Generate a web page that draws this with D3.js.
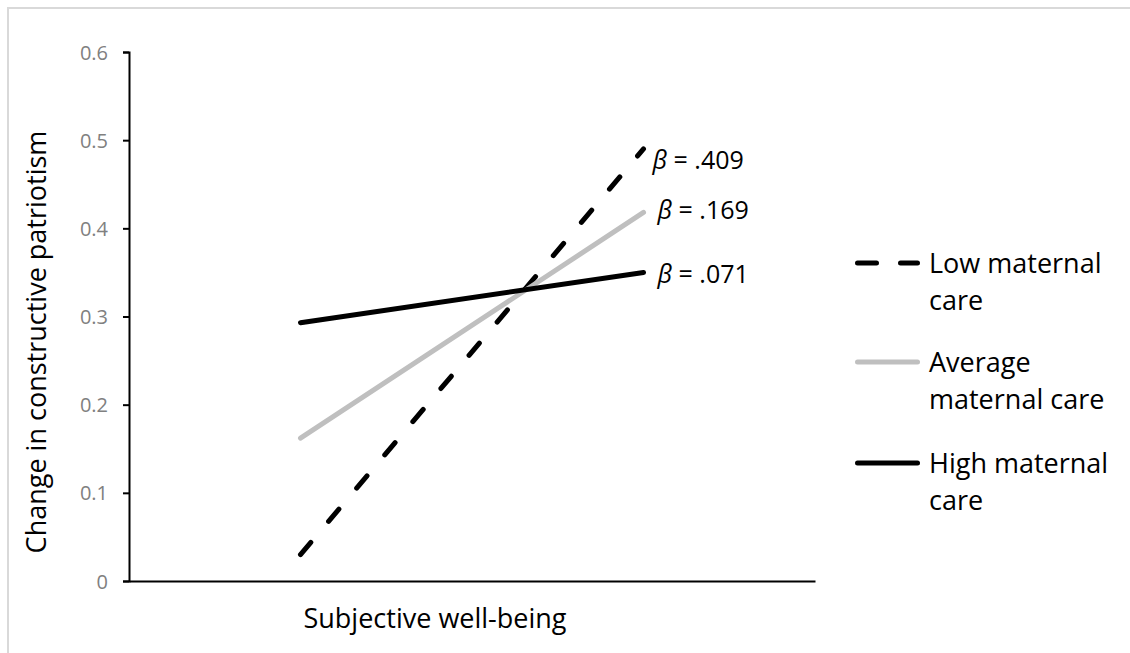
<!DOCTYPE html>
<html><head><meta charset="utf-8">
<script src="https://cdn.jsdelivr.net/npm/d3@7"></script>
<style>
body{margin:0;background:#fff;}
text{font-family:"Open Sans",sans-serif;}
</style></head>
<body>
<svg id="c" width="1130" height="653"></svg>
<script>
const categories = ["Low", "High"];
const seriesNames = ["Low maternal care", "Average maternal care", "High maternal care"];
const lowValues = [0.030, 0.490];
const avgValues = [0.162, 0.418];
const highValues = [0.293, 0.350];
const betaLabels = ["β = .409", "β = .169", "β = .071"];
const yTicks = [0, 0.1, 0.2, 0.3, 0.4, 0.5, 0.6];
const xTitle = "Subjective well-being";
const yTitle = "Change in constructive patriotism";

const svg = d3.select("#c");
svg.append("rect").attr("x",8).attr("y",8).attr("width",1130).attr("height",660)
  .attr("fill","none").attr("stroke","#d9d9d9").attr("stroke-width",2);

const x = d3.scalePoint().domain(categories).range([129, 815]).padding(0.5);
const y = d3.scaleLinear().domain([0, 0.6]).range([581, 52]);

const yAxis = svg.append("g").attr("transform","translate(129,0)")
  .call(d3.axisLeft(y).tickValues(yTicks).tickSize(6).tickPadding(15).tickFormat(d=>d===0?"0":d3.format(".1f")(d)));
yAxis.attr("font-family",null);
yAxis.select(".domain").attr("stroke","#000").attr("stroke-width",2);
yAxis.selectAll(".tick line").attr("stroke","#000").attr("stroke-width",2);
yAxis.selectAll(".tick text").attr("fill","#808080").attr("font-size",20).attr("dy","0.35em");

const xAxis = svg.append("g").attr("transform","translate(0,581)")
  .call(d3.axisBottom(x).tickValues([]).tickSizeOuter(0));
xAxis.select(".domain").attr("stroke","#000").attr("stroke-width",2);

svg.append("text").attr("x",435).attr("y",628).attr("text-anchor","middle")
  .attr("font-size",27).attr("fill","#000").text(xTitle);
svg.append("text").attr("transform","translate(46,342) rotate(-90)").attr("text-anchor","middle")
  .attr("font-size",27).attr("fill","#000").text(yTitle);

const series = [
  {vals: lowValues, color:"#000", dash:"16,27.5"},
  {vals: avgValues, color:"#bfbfbf", dash:null},
  {vals: highValues, color:"#000", dash:null}
];
const line = d3.line().x(d=>x(d[0])).y(d=>y(d[1]));
series.forEach(s=>{
  const p = svg.append("path").datum(categories.map((c,i)=>[c,s.vals[i]]))
    .attr("d",line).attr("fill","none").attr("stroke",s.color).attr("stroke-width",5)
    .attr("stroke-linecap","round");
  if(s.dash) p.attr("stroke-dasharray",s.dash);
});

// beta labels
const labelPos = [[9,20],[14,7],[14,11]];
series.forEach((s,i)=>{
  const t = svg.append("text").attr("x",x(categories[1])+labelPos[i][0]).attr("y",y(s.vals[1]) + labelPos[i][1])
    .attr("font-size",25).attr("fill","#000");
  t.append("tspan").attr("font-style","italic").text(betaLabels[i].slice(0,1));
  t.append("tspan").text(betaLabels[i].slice(1));
});

// legend
const legY = [263, 362, 463];
const legLines = [["Low maternal","care"],["Average","maternal care"],["High maternal","care"]];
series.forEach((s,i)=>{
  const l = svg.append("line").attr("x1",857.5).attr("x2",917.5).attr("y1",legY[i]).attr("y2",legY[i])
    .attr("stroke",s.color).attr("stroke-width",5).attr("stroke-linecap","round");
  if(s.dash) l.attr("stroke-dasharray","19,24");
  const t = svg.append("text").attr("x",929).attr("y",legY[i]+10).attr("font-size",27).attr("fill","#000");
  legLines[i].forEach((ln,j)=>t.append("tspan").attr("x",929).attr("dy",j===0?0:37).text(ln));
});
</script>
</body></html>
